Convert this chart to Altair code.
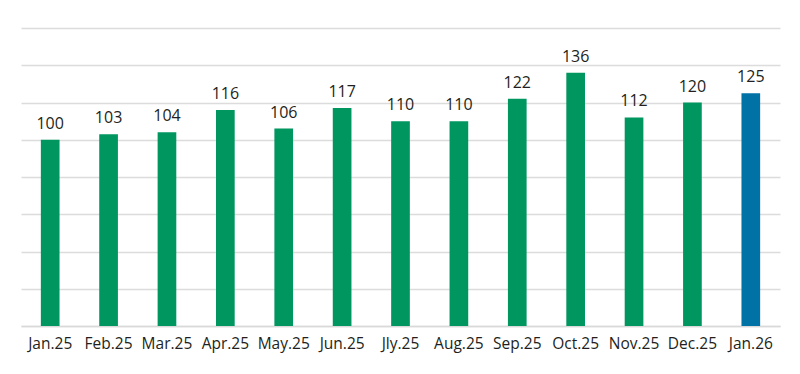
import altair as alt
import pandas as pd

months = ["Jan.25", "Feb.25", "Mar.25", "Apr.25", "May.25", "Jun.25", "Jly.25",
          "Aug.25", "Sep.25", "Oct.25", "Nov.25", "Dec.25", "Jan.26"]
values = [100, 103, 104, 116, 106, 117, 110, 110, 122, 136, 112, 120, 125]
kinds = ["past"] * 12 + ["latest"]

df = pd.DataFrame({"month": months, "value": values, "kind": kinds})

x = alt.X("month:N", sort=months, title=None,
          scale=alt.Scale(paddingInner=0.68, paddingOuter=0.34),
          axis=alt.Axis(labelAngle=0, labelFont="Open Sans", labelFontSize=15.5,
                        labelColor="#231f20", labelPadding=22, ticks=False,
                        labelBaseline="alphabetic", labelFlush=False,
                        domainColor="#d9d9d9", domainWidth=1.5, grid=False))
y = alt.Y("value:Q", title=None,
          scale=alt.Scale(domain=[0, 160], nice=False),
          axis=alt.Axis(values=[0, 20, 40, 60, 80, 100, 120, 140, 160],
                        labels=False, ticks=False, domain=False,
                        gridColor="#dcdcdc", gridWidth=1.3))

base = alt.Chart(df).encode(x=x, y=y)

bars = base.mark_bar().encode(
    color=alt.Color("kind:N", scale=alt.Scale(domain=["past", "latest"],
                                              range=["#009660", "#0072a6"]),
                    legend=None),
)

labels = base.mark_text(font="Open Sans", fontSize=16, color="#231f20",
                        baseline="alphabetic", dy=-11).encode(text="value:Q")

chart = (bars + labels).properties(
    width=759, height=298,
    padding={"left": 13, "top": 20, "right": 10, "bottom": 40},
    autosize="none",
).configure_view(stroke=None)

chart.save("out.html", embed_options={"renderer": "svg", "actions": False})
